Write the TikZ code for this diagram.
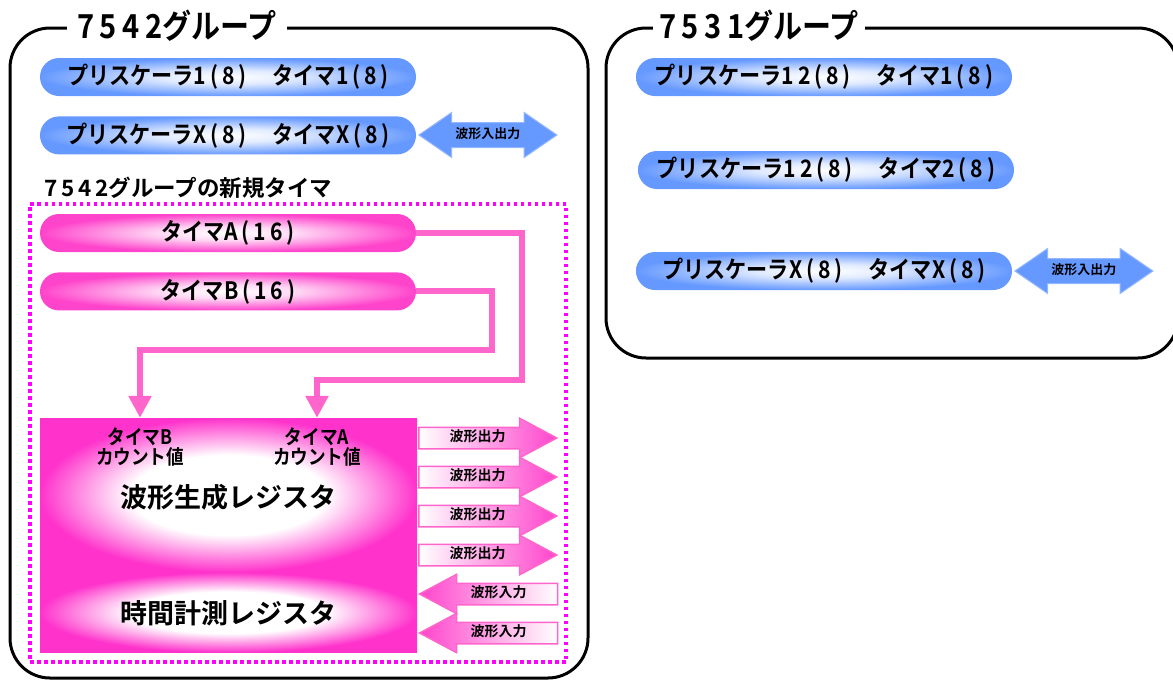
\documentclass[tikz,border=0pt]{standalone}
\usepackage{fontspec}
\setmainfont{Noto Sans CJK JP}[BoldFont={Noto Sans CJK JP Bold}]
\newfontfamily\narrowjp{Noto Sans CJK JP}[BoldFont={Noto Sans CJK JP Bold},FakeStretch=0.88]
\usetikzlibrary{positioning,shapes.arrows,arrows.meta}
\definecolor{pillblue}{HTML}{6699FF}
\definecolor{pillpink}{HTML}{FF44CC}
\definecolor{regpink}{HTML}{FF33CC}
\definecolor{linepink}{HTML}{FF66CC}
\definecolor{dotpink}{HTML}{FF00FF}
\pgfdeclareradialshading{glowblue}{\pgfpoint{0bp}{0bp}}{color(0bp)=(white);color(9bp)=(white!80!pillblue);color(25bp)=(pillblue);color(50bp)=(pillblue)}
\pgfdeclareradialshading{glowpink}{\pgfpoint{0bp}{0bp}}{color(0bp)=(white);color(9bp)=(white!80!pillpink);color(25bp)=(pillpink);color(50bp)=(pillpink)}
\pgfdeclareradialshading{glowreg}{\pgfpoint{0bp}{0bp}}{color(0bp)=(white);color(13bp)=(white);color(25bp)=(regpink);color(50bp)=(regpink)}
\newcommand{\wfont}[1]{\bfseries\fontsize{#1}{#1}\selectfont}

\begin{document}
\begin{tikzpicture}[
		x=1pt, y=-1pt,
		every node/.style={inner sep=0pt, align=center},
		grpframe/.style={draw, line width=3pt, rounded corners=40pt},
		grptitle/.style={fill=white, inner xsep=10pt, inner ysep=2pt, font=\narrowjp\wfont{33}},
		bluepill/.style={shading=glowblue, rounded corners=19pt, minimum width=376pt, minimum height=38pt, font=\narrowjp\wfont{24}},
		pinkpill/.style={shading=glowpink, rounded corners=19pt, minimum width=376pt, minimum height=38pt, font=\narrowjp\wfont{24}},
		regbox/.style={shading=glowreg, minimum width=377pt},
		bluearrow/.style={double arrow, draw=pillblue!70, line width=1pt,
			left color=pillblue, middle color=white, right color=pillblue,
			double arrow head extend=10pt, double arrow tip angle=69,
			minimum height=138pt, text height=9pt, text depth=3pt, inner ysep=6pt,
			font=\wfont{13}},
		outarrow/.style={single arrow, draw=linepink, line width=1.5pt,
			left color=white, right color=pillpink,
			single arrow head extend=9pt, single arrow tip angle=56,
			minimum height=138pt, text height=9pt, text depth=2pt, inner ysep=4.5pt,
			font=\wfont{14}},
		inarrow/.style={outarrow, shape border rotate=180,
			left color=pillpink, right color=white},
		dotbox/.style={draw=dotpink, line width=3.5pt, dash pattern=on 3.5pt off 3.5pt},
		conn/.style={draw=linepink, line width=6pt, line join=miter,
			-{Triangle[width=22pt,length=22pt]}},
		]

		\useasboundingbox (0,0) rectangle (1173,681);

		% 7542 group
		\node (g7542) [grpframe, minimum width=578pt, minimum height=650pt] at (299,353) {};
		\node (t7542) [grptitle] at (177,26) {7\,5\,4\,2グループ};
		\node (pre1) [bluepill] at (228,77) {プリスケーラ1\,(\,8\,)\hspace{26pt}タイマ1\,(\,8\,)};
		\node (preX) [bluepill, below=20pt of pre1] {プリスケーラX\,(\,8\,)\hspace{26pt}タイマX\,(\,8\,)};
		\node (ioX) [bluearrow, anchor=west] at (418,135) {波形入出力};

		% new timers
		\node (newgrp) [dotbox, minimum width=536pt, minimum height=458pt] at (298,433) {};
		\node (newlbl) [anchor=west, font=\wfont{22.5}] at (44,188) {7\,5\,4\,2グループの新規タイマ};
		\node (timA) [pinkpill] at (228,233) {タイマA\,(\,1\,6\,)};
		\node (timB) [pinkpill, below=20pt of timA] {タイマB\,(\,1\,6\,)};

		\node (reg) [regbox, minimum height=154pt] at (228.5,495) {};
		\node (meas) [regbox, minimum height=80pt, below=0pt of reg] {};
		\node (cntB) [font=\narrowjp\wfont{20}] at (140,447) {タイマB\\[0pt]カウント値};
		\node (cntA) [font=\narrowjp\wfont{20}] at (317,447) {タイマA\\[0pt]カウント値};
		\node (gen) [font=\wfont{27}] at (228,497) {波形生成レジスタ};
		\node (tim) [font=\wfont{27}] at (228,613) {時間計測レジスタ};

		\draw[conn] (timA.east) -| (522,380) -| (cntA |- reg.north);
		\draw[conn] (timB.east) -| (492,350) -| (cntB |- reg.north);

		\node (out1) [outarrow, anchor=tail] at (418,438) {波形出力};
		\node (out2) [outarrow, anchor=tail] at (418,477) {波形出力};
		\node (out3) [outarrow, anchor=tail] at (418,516) {波形出力};
		\node (out4) [outarrow, anchor=tail] at (418,555) {波形出力};
		\node (in1) [inarrow, anchor=tip] at (418,594) {波形入力};
		\node (in2) [inarrow, anchor=tip] at (418,633) {波形入力};

		% 7531 group
		\node (g7531) [grpframe, minimum width=572pt, minimum height=330pt] at (892,193) {};
		\node (t7531) [grptitle, inner xsep=6pt] at (759,26) {7\,5\,3\,1グループ};
		\node (pre12a) [bluepill] at (824,77) {プリスケーラ1\,2\,(\,8\,)\hspace{26pt}タイマ1\,(\,8\,)};
		\node (pre12b) [bluepill] at (826,170) {プリスケーラ1\,2\,(\,8\,)\hspace{26pt}タイマ2\,(\,8\,)};
		\node (preX2) [bluepill] at (824,271) {プリスケーラX\,(\,8\,)\hspace{26pt}タイマX\,(\,8\,)};
		\node (ioX2) [bluearrow, anchor=west] at (1014,271) {波形入出力};

	\end{tikzpicture}
\end{document}
